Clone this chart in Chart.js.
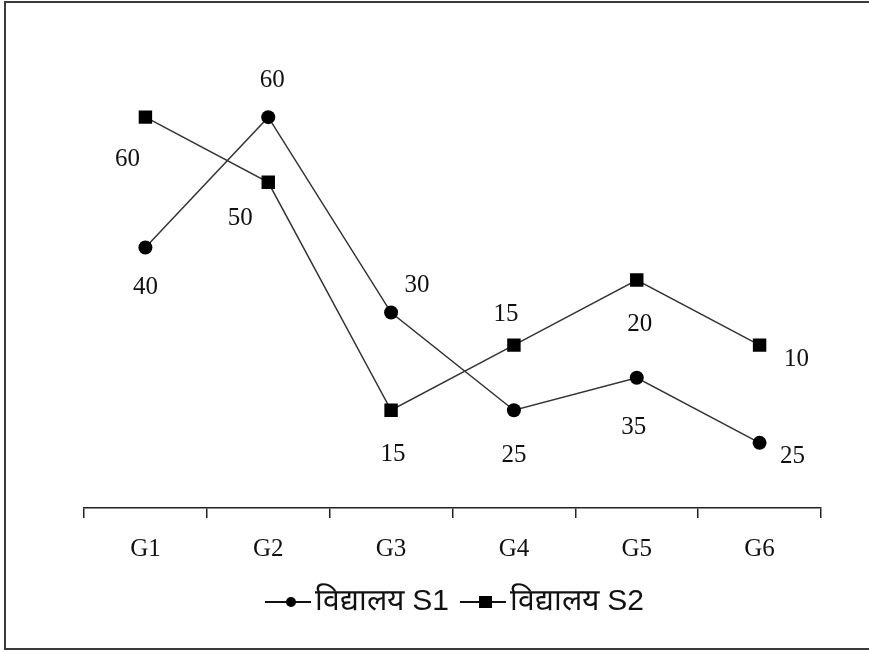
<!DOCTYPE html>
<html>
<head>
<meta charset="utf-8">
<script src="https://cdn.jsdelivr.net/npm/chart.js@4/dist/chart.umd.min.js"></script>
<style>
	html, body { margin: 0; padding: 0; background: #fff; }
	#wrap { position: relative; width: 869px; height: 653px; overflow: hidden; }
	#frame { position: absolute; left: 4px; top: 1px; width: 900px; height: 645px; border: 2px solid #3a3a3a; border-right: none; }
	#chart { position: absolute; left: 0; top: 0; }
</style>
</head>
<body>
<div id="wrap">
	<div id="frame"></div>
	<canvas id="chart" width="869" height="653"></canvas>
</div>
<script>
const categories = ['G1', 'G2', 'G3', 'G4', 'G5', 'G6'];
const seriesNames = ['विद्यालय S1', 'विद्यालय S2'];
// point heights as drawn in the picture
const s1Values = [40, 60, 30, 15, 20, 10];
const s2Values = [60, 50, 15, 25, 35, 25];
// numbers printed next to the points (as printed, even where they do not match the height)
const s1Labels = ['40', '60', '30', '25', '35', '25'];
const s2Labels = ['60', '50', '15', '15', '20', '10'];

// where each printed number sits relative to its point
const s1LabelOffsets = [[0, 40], [4, -37], [26, -27], [0, 45], [-3, 50], [33, 14]];
const s2LabelOffsets = [[-18, 42], [-28, 36], [2, 44], [-8, -31], [3, 44], [37, 14]];

const lineColor = '#333';
const serifFont = "'Liberation Serif', 'Times New Roman', serif";

// legend symbol: a short line with the marker on it, with blank room on the left
function legendIcon(style){
	const c = document.createElement('canvas');
	c.width = 61; c.height = 16;
	const g = c.getContext('2d');
	g.strokeStyle = '#111';
	g.lineWidth = 2;
	g.beginPath();
	g.moveTo(15, 8); g.lineTo(61, 8);
	g.stroke();
	g.fillStyle = '#000';
	if(style === 'circle'){
		g.beginPath();
		g.arc(41, 8, 5, 0, Math.PI*2);
		g.fill();
	}else{
		g.fillRect(34, 2, 13, 12);
	}
	return c;
}

const valueLabels = {
	id: 'valueLabels',
	afterDatasetsDraw(chart){
		const ctx = chart.ctx;
		ctx.save();
		ctx.font = '25px ' + serifFont;
		ctx.fillStyle = '#111';
		ctx.textAlign = 'center';
		ctx.textBaseline = 'middle';
		chart.data.datasets.forEach(function(ds, i){
			const meta = chart.getDatasetMeta(i);
			meta.data.forEach(function(pt, j){
				const off = ds.labelOffsets[j];
				ctx.fillText(ds.valueLabels[j], pt.x + off[0], pt.y + off[1]);
			});
		});
		ctx.restore();
	}
};

const chart_ctx = document.getElementById('chart').getContext('2d');
const chart_config = {
	type: 'line',
	data: {
		labels: categories,
		datasets: [{
			label: seriesNames[0],
			data: s1Values,
			valueLabels: s1Labels,
			labelOffsets: s1LabelOffsets,
			borderColor: lineColor,
			borderWidth: 1.5,
			backgroundColor: '#000',
			pointStyle: 'circle',
			pointRadius: 7,
			pointBorderWidth: 0,
			fill: false,
			tension: 0,
			icon: legendIcon('circle')
		},
		{
			label: seriesNames[1],
			data: s2Values,
			valueLabels: s2Labels,
			labelOffsets: s2LabelOffsets,
			borderColor: lineColor,
			borderWidth: 1.5,
			backgroundColor: '#000',
			pointStyle: 'rect',
			pointRadius: 9.5,
			pointBorderWidth: 0,
			fill: false,
			tension: 0,
			icon: legendIcon('rect')
		}]
	},
	options: {
		responsive: false,
		animation: false,
		events: [],
		layout: { padding: { left: 84, right: 48, top: 52, bottom: 26 } },
		plugins: {
			tooltip: { enabled: false },
			legend: {
				position: 'bottom',
				labels: {
					usePointStyle: true,
					pointStyleWidth: 39,
					padding: 7,
					color: '#111',
					font: { family: "'Liberation Sans', Arial, sans-serif", size: 30 },
					generateLabels: function(chart){
						const items = Chart.defaults.plugins.legend.labels.generateLabels(chart);
						items.forEach(function(item){
							item.pointStyle = chart.data.datasets[item.datasetIndex].icon;
						});
						return items;
					}
				}
			}
		},
		scales: {
			x: {
				offset: true,
				grid: { offset: true, drawOnChartArea: false, tickLength: 10, color: '#222', lineWidth: 1.5 },
				border: { color: '#222', width: 1.5 },
				ticks: { color: '#111', padding: 16, font: { family: serifFont, size: 25 } }
			},
			y: { display: false, min: 0, max: 70 }
		}
	},
	plugins: [valueLabels]
};
const chart = new Chart(chart_ctx, chart_config);
</script>
</body>
</html>
